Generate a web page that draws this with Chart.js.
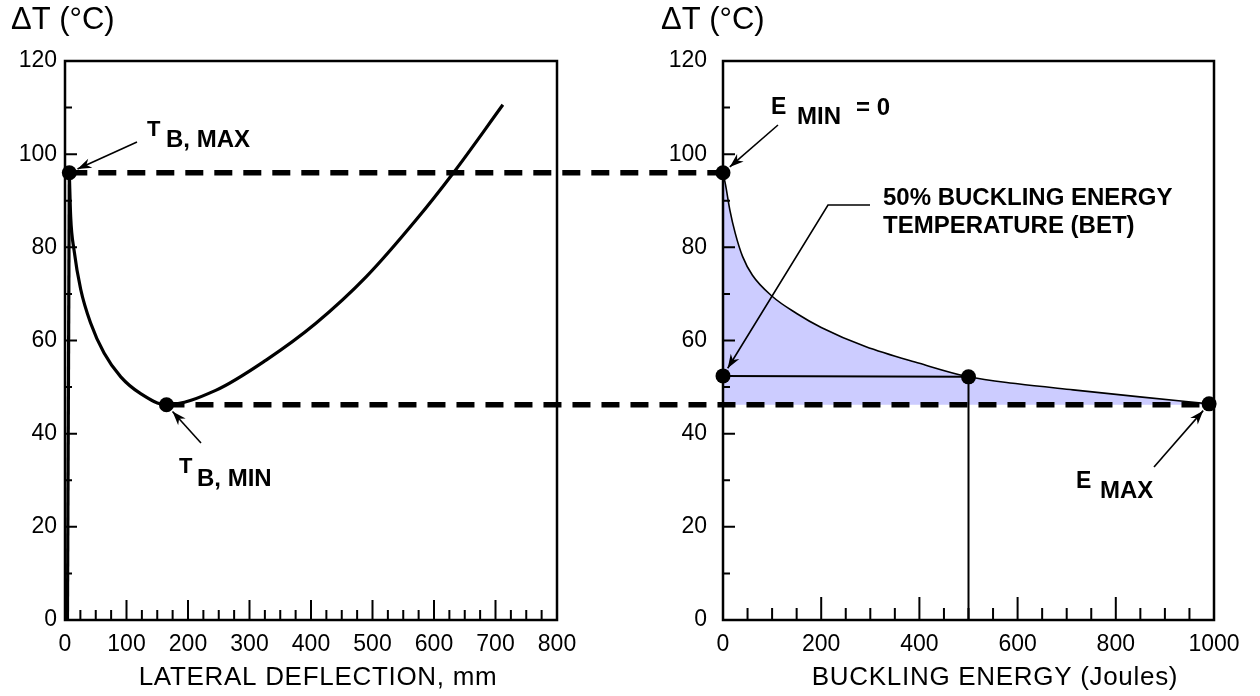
<!DOCTYPE html>
<html><head><meta charset="utf-8">
<script src="https://cdn.jsdelivr.net/npm/chart.js@4/dist/chart.umd.min.js"></script>
<style>
html,body{margin:0;padding:0;background:#fff;width:1260px;height:696px;overflow:hidden}
#l{position:absolute;left:0;top:0;width:640px;height:696px}
#r{position:absolute;left:640px;top:0;width:620px;height:696px}
</style></head><body>
<div id="l"><canvas id="cl"></canvas></div>
<div id="r"><canvas id="cr"></canvas></div>
<script>
// ---------- data (left: lateral deflection) ----------
const latDefl   = [7, 9.2, 14.7, 25.5, 41.8, 63.5, 90.7, 123, 165, 245, 327, 408, 490, 571, 631, 712];
const latDeltaT = [96, 86.6, 79.4, 71.0, 63.7, 57.3, 52.2, 48.6, 46.2, 49.3, 55.8, 63.7, 73.7, 85.9, 95.9, 110.6];
const riseDefl   = [4, 7];
const riseDeltaT = [0, 96];
const tbDefl   = [7, 165];      // T_B,MAX , T_B,MIN
const tbDeltaT = [96, 46.2];

// ---------- data (right: buckling energy) ----------
const energy       = [0, 5, 14, 25, 40, 60, 100, 150, 200, 290, 400, 500, 600, 713, 849, 990];
const energyDeltaT = [96, 93.5, 88, 83, 78, 74, 69.5, 65.8, 62.8, 58.7, 55.1, 52.2, 50.7, 49.4, 47.9, 46.4];
const betEnergy = [0, 500];
const betDeltaT = [52.4, 52.2];
const dropEnergy = [500, 500];
const dropDeltaT = [52.2, 0];
const markEnergy = [0, 0, 500, 990];      // E_MIN, BET, 50% point, E_MAX
const markDeltaT = [96, 52.4, 52.2, 46.4];

// ---------- tick labels ----------
const yTicks      = [0, 20, 40, 60, 80, 100, 120];
const xTicksLeft  = [0, 100, 200, 300, 400, 500, 600, 700, 800];
const xTicksRight = [0, 200, 400, 600, 800, 1000];

const FONT = "'Liberation Sans', Arial, Helvetica, sans-serif";
const pts = (xs, ys) => xs.map((x, i) => ({x, y: ys[i]}));
const minors = (major, n) => {
  const out = [];
  for (let i = 0; i < major.length - 1; i++) {
    const step = (major[i + 1] - major[i]) / n;
    for (let k = 1; k < n; k++) out.push(major[i] + k * step);
  }
  return out;
};

function arrow(ctx, path, tip) {
  ctx.save();
  ctx.strokeStyle = '#000'; ctx.fillStyle = '#000'; ctx.lineWidth = 1.6;
  ctx.beginPath();
  ctx.moveTo(path[0][0], path[0][1]);
  for (let i = 1; i < path.length; i++) ctx.lineTo(path[i][0], path[i][1]);
  ctx.lineTo(tip[0], tip[1]);
  ctx.stroke();
  const last = path[path.length - 1];
  const ang = Math.atan2(tip[1] - last[1], tip[0] - last[0]);
  const L = 14, W = 5;
  ctx.beginPath();
  ctx.moveTo(tip[0], tip[1]);
  ctx.lineTo(tip[0] - L * Math.cos(ang) + W * Math.sin(ang), tip[1] - L * Math.sin(ang) - W * Math.cos(ang));
  ctx.lineTo(tip[0] - 0.7 * L * Math.cos(ang), tip[1] - 0.7 * L * Math.sin(ang));
  ctx.lineTo(tip[0] - L * Math.cos(ang) - W * Math.sin(ang), tip[1] - L * Math.sin(ang) + W * Math.cos(ang));
  ctx.closePath();
  ctx.fill();
  ctx.restore();
}

function deco(cfg) {
  return {
    id: 'deco',
    afterDatasetDraw(chart, args) {
      if (args.index !== cfg.dashIndex) return;
      const {ctx} = chart, xs = chart.scales.x, ys = chart.scales.y;
      ctx.save();
      ctx.strokeStyle = '#000'; ctx.lineWidth = 5.5; ctx.lineCap = 'butt';
      ctx.setLineDash([18, 11]);
      cfg.dashes.forEach(d => {
        const y = ys.getPixelForValue(d.t), xp = xs.getPixelForValue(d.x);
        ctx.beginPath();
        if (cfg.side === 'right') { ctx.lineDashOffset = 0; ctx.moveTo(xp, y); ctx.lineTo(chart.width, y); }
        else { ctx.lineDashOffset = d.offset ? d.offset() : 0; ctx.moveTo(0, y); ctx.lineTo(xp, y); }
        ctx.stroke();
      });
      ctx.restore();
    },
    afterDraw(chart) {
      const {ctx, chartArea: a} = chart, xs = chart.scales.x, ys = chart.scales.y;
      ctx.save();
      // frame
      ctx.strokeStyle = '#000'; ctx.lineWidth = 2.5;
      ctx.strokeRect(a.left, a.top, a.right - a.left, a.bottom - a.top);
      // inward ticks
      ctx.lineWidth = 2;
      ctx.beginPath();
      const xMaj = cfg.xTicks, xMin = minors(cfg.xTicks, cfg.xMinorN);
      xMaj.forEach(v => { const p = xs.getPixelForValue(v); ctx.moveTo(p, a.bottom); ctx.lineTo(p, a.bottom - cfg.xMajLen); });
      xMin.forEach(v => { const p = xs.getPixelForValue(v); ctx.moveTo(p, a.bottom); ctx.lineTo(p, a.bottom - cfg.xMinLen); });
      yTicks.forEach(v => { const p = ys.getPixelForValue(v); ctx.moveTo(a.left, p); ctx.lineTo(a.left + 12, p); });
      minors(yTicks, 2).forEach(v => { const p = ys.getPixelForValue(v); ctx.moveTo(a.left, p); ctx.lineTo(a.left + 7, p); });
      ctx.stroke();
      // y title and x title
      ctx.fillStyle = '#000';
      ctx.textBaseline = 'alphabetic'; ctx.textAlign = 'left';
      ctx.font = `31px ${FONT}`;
      ctx.fillText('ΔT (°C)', cfg.yTitleX, 29);
      ctx.font = `26px ${FONT}`; ctx.textAlign = 'center'; ctx.textBaseline = 'middle';
      try { ctx.letterSpacing = '0.7px'; } catch (e) {}
      ctx.fillText(cfg.xTitle, cfg.xTitleX, 678);
      try { ctx.letterSpacing = '0px'; } catch (e) {}
      // annotation texts
      ctx.textAlign = 'left'; ctx.textBaseline = 'alphabetic';
      cfg.texts.forEach(t => { ctx.font = `bold ${t.size}px ${FONT}`; ctx.fillText(t.s, t.x, t.y); });
      ctx.restore();
      // arrows to marks
      const meta = chart.getDatasetMeta(cfg.markIndex);
      cfg.arrows.forEach(ar => {
        const el = meta.data[ar.pt];
        const last = ar.path[ar.path.length - 1];
        const dx = last[0] - el.x, dy = last[1] - el.y, len = Math.hypot(dx, dy);
        const tip = [el.x + dx / len * 9, el.y + dy / len * 9];
        arrow(ctx, ar.path, tip);
      });
    }
  };
}

function scalesCfg(xMax, xTicks, yPad, yWidth) {
  const tickFont = {family: FONT, size: 23};
  return {
    x: {
      type: 'linear', min: 0, max: xMax,
      afterBuildTicks: s => { s.ticks = xTicks.map(v => ({value: v})); },
      ticks: {font: tickFont, color: '#000', padding: 11, maxRotation: 0, autoSkip: false, callback: v => String(v)},
      grid: {display: false, drawTicks: false}, border: {display: false},
      afterFit: s => { s.height = 76; }
    },
    y: {
      type: 'linear', min: 0, max: 120,
      afterBuildTicks: s => { s.ticks = yTicks.map(v => ({value: v})); },
      ticks: {font: tickFont, color: '#000', padding: yPad, callback: v => String(v)},
      grid: {display: false, drawTicks: false}, border: {display: false},
      afterFit: s => { s.width = yWidth; }
    }
  };
}

const markStyle = {type: 'scatter', showLine: false, pointRadius: 7.5, pointBackgroundColor: '#000', pointBorderColor: '#000', pointBorderWidth: 0, clip: false};

// ---------- left chart ----------
const leftChart = new Chart(document.getElementById('cl'), {
  type: 'scatter',
  data: {datasets: [
    Object.assign({label: 'T_B', data: pts(tbDefl, tbDeltaT)}, markStyle),
    {label: 'curve', data: pts(latDefl, latDeltaT), showLine: true, borderColor: '#000', borderWidth: 3.2,
     pointRadius: 0, cubicInterpolationMode: 'monotone', clip: false},
    {label: 'rise', data: pts(riseDefl, riseDeltaT), showLine: true, borderColor: '#000', borderWidth: 3.2,
     pointRadius: 0, clip: false}
  ]},
  options: {
    responsive: true, maintainAspectRatio: false, animation: false,
    layout: {padding: {top: 61, right: 83, bottom: 0, left: 0}},
    plugins: {legend: {display: false}, tooltip: {enabled: false}},
    scales: scalesCfg(800, xTicksLeft, 8, 65)
  },
  plugins: [deco({
    side: 'right', dashIndex: 1, markIndex: 0,
    dashes: [{x: tbDefl[0], t: tbDeltaT[0]}, {x: tbDefl[1], t: tbDeltaT[1]}],
    xTicks: xTicksLeft, xMinorN: 4, xMajLen: 20, xMinLen: 10,
    yTitleX: 11, xTitle: 'LATERAL DEFLECTION, mm', xTitleX: 318,
    texts: [
      {s: 'T', x: 147, y: 136, size: 22}, {s: 'B, MAX', x: 166, y: 147, size: 24},
      {s: 'T', x: 179, y: 473, size: 22}, {s: 'B, MIN', x: 197, y: 486, size: 24}
    ],
    arrows: [{path: [[137, 142]], pt: 0}, {path: [[201, 443]], pt: 1}]
  })]
});

const phase = i => () => {
  const x0 = leftChart.scales.x.getPixelForValue(tbDefl[i]);
  return (leftChart.width - x0) % 29;
};

// ---------- right chart ----------
new Chart(document.getElementById('cr'), {
  type: 'scatter',
  data: {datasets: [
    Object.assign({label: 'marks', data: pts(markEnergy, markDeltaT)}, markStyle),
    {label: 'drop', data: pts(dropEnergy, dropDeltaT), showLine: true, borderColor: '#000', borderWidth: 2, pointRadius: 0},
    {label: 'bet', data: pts(betEnergy, betDeltaT), showLine: true, borderColor: '#000', borderWidth: 2, pointRadius: 0},
    {label: 'energy', data: pts(energy, energyDeltaT), showLine: true, borderColor: '#000', borderWidth: 1.6,
     pointRadius: 0, cubicInterpolationMode: 'monotone', fill: {value: tbDeltaT[1]},
     backgroundColor: 'rgb(204,204,255)'}
  ]},
  options: {
    responsive: true, maintainAspectRatio: false, animation: false,
    layout: {padding: {top: 61, right: 46, bottom: 0, left: 0}},
    plugins: {legend: {display: false}, tooltip: {enabled: false}, filler: {propagate: false}},
    scales: scalesCfg(1000, xTicksRight, 16, 83)
  },
  plugins: [deco({
    side: 'left', dashIndex: 3, markIndex: 0,
    dashes: [{x: markEnergy[0], t: tbDeltaT[0], offset: phase(0)}, {x: markEnergy[3], t: tbDeltaT[1], offset: phase(1)}],
    xTicks: xTicksRight, xMinorN: 4, xMajLen: 23, xMinLen: 12,
    yTitleX: 21, xTitle: 'BUCKLING ENERGY (Joules)', xTitleX: 355,
    texts: [
      {s: 'E', x: 131, y: 114, size: 23}, {s: 'MIN', x: 157, y: 124, size: 24}, {s: '= 0', x: 216, y: 115, size: 24},
      {s: '50% BUCKLING ENERGY', x: 243, y: 205, size: 24},
      {s: 'TEMPERATURE (BET)', x: 243, y: 233, size: 24},
      {s: 'E', x: 436, y: 488, size: 23}, {s: 'MAX', x: 460, y: 498, size: 24}
    ],
    arrows: [{path: [[138, 125]], pt: 0}, {path: [[230, 205], [188, 205]], pt: 1}, {path: [[514, 467]], pt: 3}]
  })]
});
</script>
</body></html>
